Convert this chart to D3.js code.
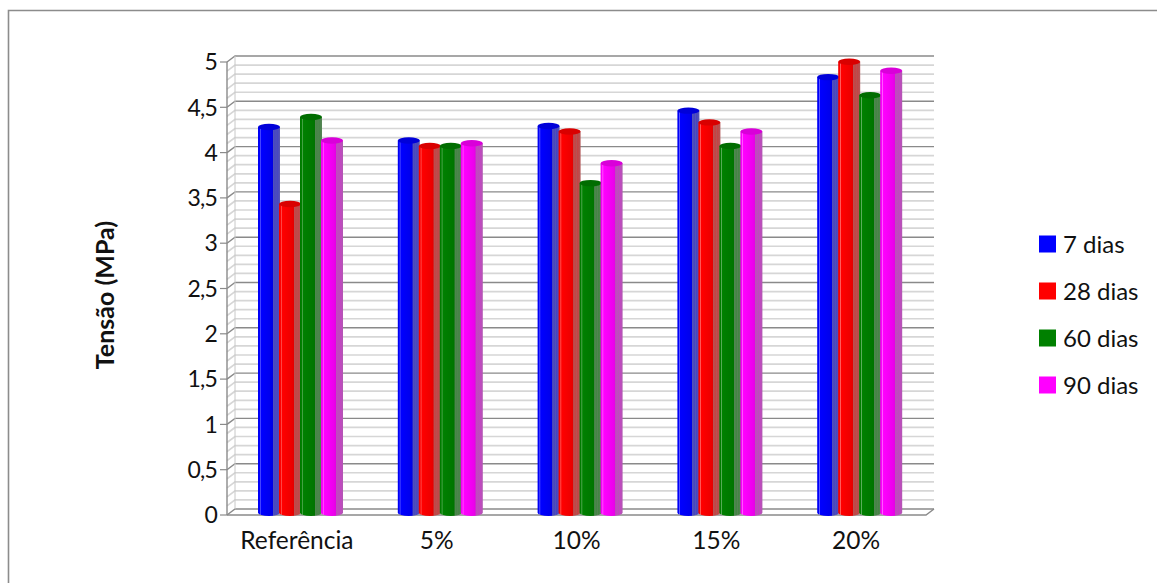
<!DOCTYPE html>
<html>

<head>
    <meta charset="utf-8">
    <title>Tensão (MPa)</title>
    <style>
        html, body { margin: 0; padding: 0; background: #fff; overflow: hidden; }
        text { font-family: Lato, "Open Sans", sans-serif; fill: #111; }
    </style>
</head>

<body>
    <div id="container"></div>

    <script src="https://d3js.org/d3.v7.min.js"></script>

    <script>
        const categories = ["Referência", "5%", "10%", "15%", "20%"];
        const seriesNames = ["7 dias", "28 dias", "60 dias", "90 dias"];
        const seriesColors = ["#0000ff", "#ff0000", "#008000", "#ff00ff"];
        const dias7 = [4.25, 4.1, 4.26, 4.43, 4.8];
        const dias28 = [3.4, 4.04, 4.2, 4.3, 4.97];
        const dias60 = [4.36, 4.04, 3.63, 4.04, 4.6];
        const dias90 = [4.1, 4.07, 3.85, 4.2, 4.87];
        const seriesValues = [dias7, dias28, dias60, dias90];
        const yTicks = [0, 0.5, 1, 1.5, 2, 2.5, 3, 3.5, 4, 4.5, 5];
        const yMinorTicks = d3.range(0, 51).map(d => d / 10);

        const width = 1157, height = 583;
        // offset of the back wall from the front plane of the fake 3d box
        const depthX = 8, depthY = -6;
        const barLift = -3;

        const svg = d3.select("#container").append("svg")
            .attr("width", width)
            .attr("height", height)
            .style("display", "block");

        const x = d3.scaleBand().domain(categories).range([227, 926]);
        const y = d3.scaleLinear().domain([0, 5]).range([515, 62]);
        const xSeries = d3.scaleBand().domain(d3.range(4)).range([31, 115]);

        // chart frame, only top and left edges show
        const frame = svg.append("g").attr("fill", "none");
        frame.append("path").attr("d", `M8.5,${height}V10.5H${width}`).attr("stroke", "#8c8c8c").attr("stroke-width", 1.6);

        // back wall and side wall grid
        const grid = svg.append("g").attr("fill", "none");
        grid.selectAll("path.minor")
            .data(yMinorTicks.filter(d => !yTicks.includes(d)))
            .join("path")
            .attr("class", "minor")
            .attr("d", d => `M${x.range()[0]},${y(d)}l${depthX},${depthY}H${x.range()[1] + depthX}`)
            .attr("stroke", "#d6d6d6")
            .attr("stroke-width", 1.7);
        grid.selectAll("path.major")
            .data(yTicks)
            .join("path")
            .attr("class", "major")
            .attr("d", d => `M${x.range()[0]},${y(d)}l${depthX},${depthY}H${x.range()[1] + depthX}`)
            .attr("stroke", "#8a8a8a")
            .attr("stroke-width", 1.4);
        grid.append("path")
            .attr("d", `M${x.range()[0] + depthX},${y(5) + depthY}V${y(0) + depthY}`)
            .attr("stroke", "#c8c8c8");

        // floor of the box and category ticks
        grid.append("path")
            .attr("d", `M${x.range()[0]},${y(0)}H${x.range()[1]}l${depthX},${depthY}`)
            .attr("stroke", "#8a8a8a")
            .attr("stroke-width", 1.4);

        // horizontal shading across a cylinder, one gradient per series
        const defs = svg.append("defs");
        seriesColors.forEach((color, i) => {
            const c = d3.color(color);
            const lit = d3.interpolateRgb(c, "#fff");
            const grey = d3.interpolateRgb(c, "#888");
            const stops = [
                [0, c.darker(0.2)], [0.07, c], [0.1, lit(0.4)], [0.14, c],
                [0.58, c.darker(0.2)], [0.66, c.darker(0.3)],
                [0.68, grey(0.6)], [0.78, grey(0.5)], [0.82, grey(0.62)],
                [0.86, grey(0.5)], [1, grey(0.65)]
            ];
            defs.append("linearGradient").attr("id", `cyl${i}`)
                .selectAll("stop").data(stops).join("stop")
                .attr("offset", d => d[0])
                .attr("stop-color", d => d[1]);
        });

        // cylinders, drawn left to right so that each one overlaps the previous
        const bars = svg.append("g");
        categories.forEach((cat, ci) => {
            seriesValues.forEach((values, si) => {
                const left = x(cat) + xSeries(si);
                const w = xSeries.bandwidth() + 1;
                const rx = w / 2, ry = 3.2;
                const top = y(values[ci]) + barLift;
                const base = y(0) - 1 - ry + 2;
                const g = bars.append("g");
                g.append("path")
                    .attr("d", `M${left},${top}V${base}A${rx},${ry} 0 0 0 ${left + w},${base}V${top}Z`)
                    .attr("fill", `url(#cyl${si})`);
                g.append("ellipse")
                    .attr("cx", left + rx)
                    .attr("cy", top)
                    .attr("rx", rx)
                    .attr("ry", ry)
                    .attr("fill", d3.color(seriesColors[si]).darker(0.45));
            });
        });

        // value axis on the front plane
        const yAxis = svg.append("g");
        yAxis.append("path")
            .attr("d", `M${x.range()[0]},${y(5)}V${y(0)}`)
            .attr("stroke", "#8a8a8a")
            .attr("stroke-width", 1.4);
        yAxis.selectAll("line")
            .data(yTicks)
            .join("line")
            .attr("x1", x.range()[0] - 7)
            .attr("x2", x.range()[0])
            .attr("y1", d => y(d))
            .attr("y2", d => y(d))
            .attr("stroke", "#8a8a8a")
            .attr("stroke-width", 1.2);
        yAxis.selectAll("text")
            .data(yTicks)
            .join("text")
            .attr("x", x.range()[0] - 10)
            .attr("y", d => y(d))
            .attr("dy", "0.36em")
            .attr("text-anchor", "end")
            .attr("font-size", 23)
            .attr("letter-spacing", -0.8)
            .text(d => String(d).replace(".", ","));

        svg.append("g").selectAll("text")
            .data(categories)
            .join("text")
            .attr("x", d => x(d) + x.bandwidth() / 2)
            .attr("y", 549)
            .attr("text-anchor", "middle")
            .attr("font-size", 24.5)
            .text(d => d);

        svg.append("text")
            .attr("transform", "translate(114,295) rotate(-90)")
            .attr("text-anchor", "middle")
            .attr("font-size", 25)
            .attr("font-weight", 700)
            .text("Tensão (MPa)");

        // legend
        const legendY = d3.scalePoint().domain(seriesNames).range([244, 385]);
        const legend = svg.append("g").selectAll("g")
            .data(seriesNames)
            .join("g")
            .attr("transform", d => `translate(1039,${legendY(d)})`);
        legend.append("rect")
            .attr("y", -8.5)
            .attr("width", 17)
            .attr("height", 17)
            .attr("fill", (d, i) => seriesColors[i]);
        legend.append("text")
            .attr("x", 24)
            .attr("dy", "0.36em")
            .attr("font-size", 24)
            .text(d => d);
    </script>
</body>

</html>
